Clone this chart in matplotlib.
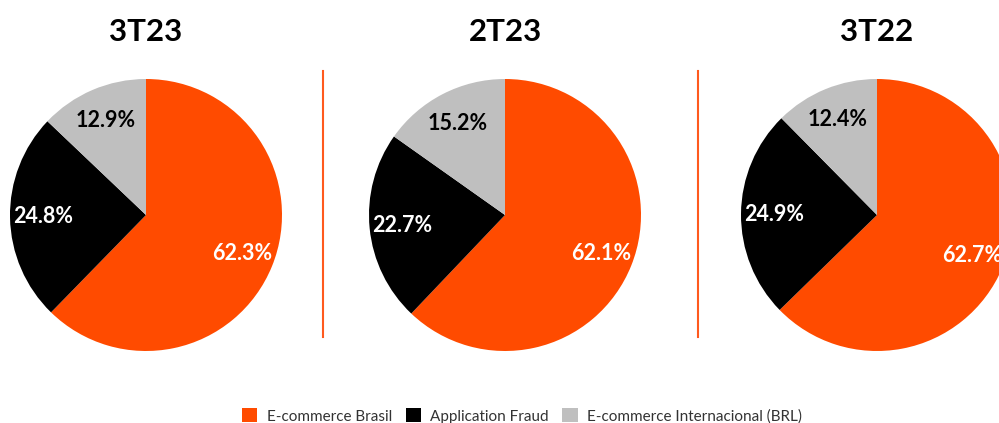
import matplotlib
matplotlib.use('Agg')
import matplotlib.pyplot as plt
from matplotlib.lines import Line2D

# dados por trimestre
periodos = ['3T23', '2T23', '3T22']
categorias = ['E-commerce Brasil', 'Application Fraud', 'E-commerce Internacional (BRL)']
ecommerce_brasil = [62.3, 62.1, 62.7]
application_fraud = [24.8, 22.7, 24.9]
ecommerce_internacional = [12.9, 15.2, 12.4]

cores = ['#FF4B00', '#000000', '#BFBFBF']
cores_texto = ['white', 'white', 'black']

plt.rcParams['font.family'] = ['Lato', 'DejaVu Sans']

W, H = 999, 423
fig = plt.figure(figsize=(W / 100, H / 100), dpi=100)

centros_x = [146, 505, 877]
centro_y = 215
raio = 136

for i, periodo in enumerate(periodos):
    valores = [ecommerce_brasil[i], application_fraud[i], ecommerce_internacional[i]]
    cx = centros_x[i]
    ax = fig.add_axes([(cx - raio) / W, (H - centro_y - raio) / H, 2 * raio / W, 2 * raio / H])
    wedges, textos, autotextos = ax.pie(valores, colors=cores, startangle=90, counterclock=False,
                                        autopct='%.1f%%', pctdistance=0.76, radius=1,
                                        textprops={'fontsize': 15.5, 'fontweight': 'bold'})
    for t, c in zip(autotextos, cores_texto):
        t.set_color(c)
    ax.set_xlim(-1, 1)
    ax.set_ylim(-1, 1)
    ax.set_aspect('equal')
    ax.axis('off')
    fig.text(cx / W, 1 - 32 / H, periodo, ha='center', va='center', fontsize=22.5, fontweight='bold')
    if i == 0:
        handles = wedges

# linhas separadoras
for x in [323, 698]:
    fig.add_artist(Line2D([x / W, x / W], [1 - 71 / H, 1 - 337 / H], transform=fig.transFigure,
                          color='#FF5A1E', linewidth=1.5))

fig.legend(handles, categorias, loc='center', bbox_to_anchor=(522 / W, 1 - 416 / H), ncol=3,
           frameon=False, fontsize=11, handlelength=1.0, handleheight=1.0, handletextpad=0.6,
           columnspacing=0.9, labelcolor='#333333')

fig.savefig('out.png', dpi=100)
